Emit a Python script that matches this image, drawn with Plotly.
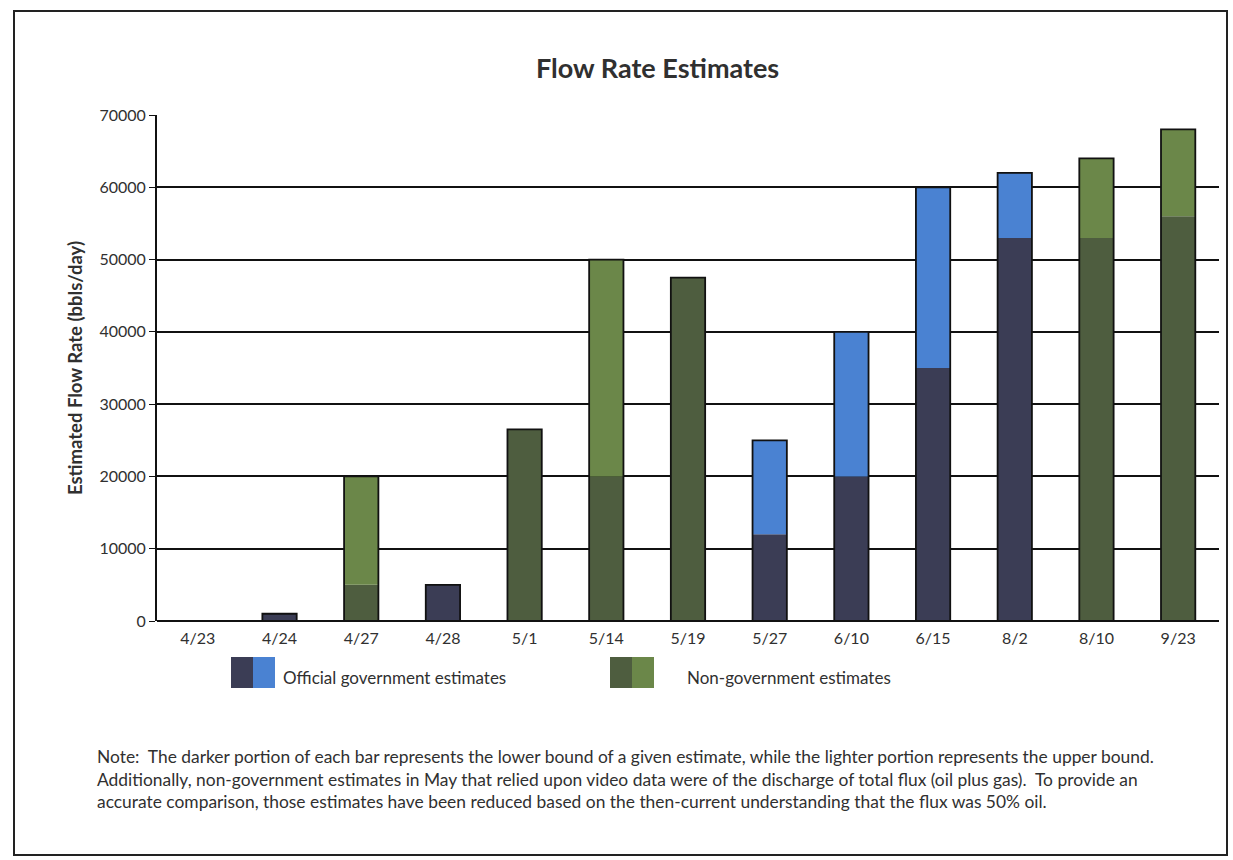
import plotly.graph_objects as go

# Estimate dates (category axis)
dates = ["4/23", "4/24", "4/27", "4/28", "5/1", "5/14", "5/19",
         "5/27", "6/10", "6/15", "8/2", "8/10", "9/23"]

# Official government estimates (bbls/day): lower and upper bounds
official_low = [0, 1000, None, 5000, None, None, None,
                12000, 20000, 35000, 53000, None, None]
official_high = [None, None, None, None, None, None, None,
                 25000, 40000, 60000, 62000, None, None]

# Non-government estimates (bbls/day): lower and upper bounds
nongov_low = [None, None, 5000, None, 26500, 20000, 47500,
              None, None, None, None, 53000, 56000]
nongov_high = [None, None, 20000, None, None, 50000, None,
               None, None, None, None, 64000, 68000]

y_ticks = [0, 10000, 20000, 30000, 40000, 50000, 60000, 70000]

TEXT = "#303030"
FONT = "Lato"
C_OFF_DARK = "#3b3d55"
C_OFF_LIGHT = "#4a82d2"
C_NG_DARK = "#4e5d3f"
C_NG_LIGHT = "#6b8749"
EDGE = "#111111"


def upper_part(low, high):
    return [None if h is None else h - (l or 0) for l, h in zip(low, high)]


def base_of(low, high):
    return [None if h is None else (l or 0) for l, h in zip(low, high)]


def total(low, high):
    out = []
    for l, h in zip(low, high):
        vals = [v for v in (l, h) if v is not None]
        out.append(max(vals) if vals else None)
    return out


fig = go.Figure()
no_line = dict(width=0)
# lower bound segments
fig.add_bar(x=dates, y=official_low, marker=dict(color=C_OFF_DARK, line=no_line))
fig.add_bar(x=dates, y=nongov_low, marker=dict(color=C_NG_DARK, line=no_line))
# upper bound segments sit on top of the lower bound
fig.add_bar(x=dates, y=upper_part(official_low, official_high),
            base=base_of(official_low, official_high),
            marker=dict(color=C_OFF_LIGHT, line=no_line))
fig.add_bar(x=dates, y=upper_part(nongov_low, nongov_high),
            base=base_of(nongov_low, nongov_high),
            marker=dict(color=C_NG_LIGHT, line=no_line))
# outline around each whole bar
for low, high in [(official_low, official_high), (nongov_low, nongov_high)]:
    fig.add_bar(x=dates, y=total(low, high),
                marker=dict(color="rgba(0,0,0,0)", line=dict(color=EDGE, width=1.8)))

# plot area geometry in pixels (for placing the frame, legend and note)
W, H = 1233, 860
L, R, T, B = 157, 14, 115, 239
pw, ph = W - L - R, H - T - B


def px(x):
    return (x - L) / pw


def py(y):
    return (H - B - y) / ph


shapes = [
    # page frame
    dict(type="rect", xref="paper", yref="paper",
         x0=px(14), x1=px(1227), y0=py(855), y1=py(11),
         line=dict(color="#222222", width=2), fillcolor="rgba(0,0,0,0)",
         layer="below"),
]

# legend swatches: dark + light halves
for x0, c1, c2 in [(231, C_OFF_DARK, C_OFF_LIGHT), (610, C_NG_DARK, C_NG_LIGHT)]:
    shapes.append(dict(type="rect", xref="paper", yref="paper",
                       x0=px(x0), x1=px(x0 + 22), y0=py(688), y1=py(657),
                       fillcolor=c1, line=dict(width=0)))
    shapes.append(dict(type="rect", xref="paper", yref="paper",
                       x0=px(x0 + 22), x1=px(x0 + 44), y0=py(688), y1=py(657),
                       fillcolor=c2, line=dict(width=0)))

annotations = [
    dict(text="Flow Rate Estimates", xref="paper", yref="paper",
         x=px(657), y=py(67), xanchor="center", yanchor="middle",
         showarrow=False, font=dict(family=FONT, size=27, weight="bold", color=TEXT)),
    dict(text="Official government estimates", xref="paper", yref="paper",
         x=px(281), y=py(677), xanchor="left", yanchor="middle",
         showarrow=False, font=dict(family=FONT, size=17, color=TEXT)),
    dict(text="Non-government estimates", xref="paper", yref="paper",
         x=px(685), y=py(677), xanchor="left", yanchor="middle",
         showarrow=False, font=dict(family=FONT, size=17, color=TEXT)),
    dict(text=("Note:  The darker portion of each bar represents the lower bound of a given estimate, "
               "while the lighter portion represents the upper bound.<br>"
               "Additionally, non-government estimates in May that relied upon video data were of the "
               "discharge of total flux (oil plus gas).  To provide an<br>"
               "accurate comparison, those estimates have been reduced based on the then-current "
               "understanding that the flux was 50% oil."),
         xref="paper", yref="paper", x=px(95), y=py(744), xanchor="left", yanchor="top",
         align="left", showarrow=False,
         font=dict(family=FONT, size=17.4, color=TEXT)),
]

fig.update_layout(
    width=W, height=H,
    margin=dict(l=L, r=R, t=T, b=B),
    barmode="overlay", bargap=0.58,
    showlegend=False,
    paper_bgcolor="white", plot_bgcolor="white",
    font=dict(family=FONT, color=TEXT, size=14),
    shapes=shapes, annotations=annotations,
    xaxis=dict(type="category", categoryorder="array", categoryarray=dates,
               range=[-0.5, 12.5], showgrid=False, showline=False, ticks="",
               tickfont=dict(size=16, color=TEXT), ticklabelstandoff=6),
    yaxis=dict(range=[0, 70000], tickvals=y_ticks, ticktext=[str(v) for v in y_ticks],
               showgrid=True, gridcolor=EDGE, gridwidth=1.5,
               zeroline=True, zerolinecolor=EDGE, zerolinewidth=1.8,
               showline=True, linecolor=EDGE, linewidth=1.8,
               ticks="outside", ticklen=6, tickcolor=EDGE, tickwidth=1.2,
               tickfont=dict(size=16, color=TEXT),
               title=dict(text="Estimated Flow Rate (bbls/day)", standoff=12,
                          font=dict(size=18.5, weight="bold", color=TEXT))),
)

fig.write_html("out.html")
